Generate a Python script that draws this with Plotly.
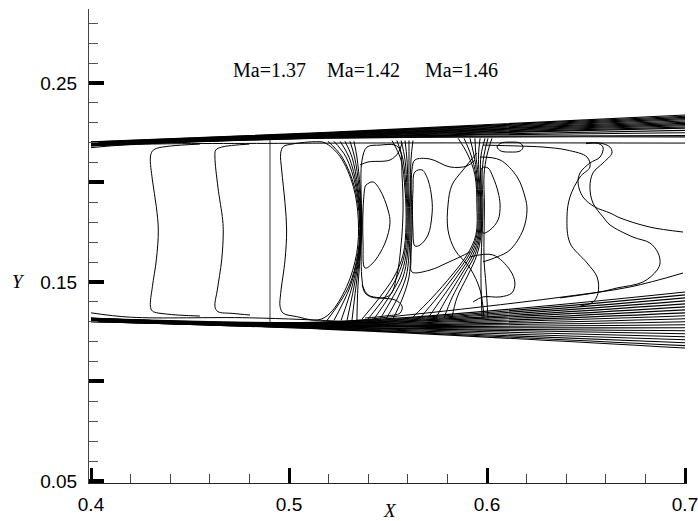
import plotly.graph_objects as go

# ---------------- data (data units) ----------------
x_ticks = [0.4, 0.5, 0.6, 0.7]
x_labels = ["0.4", "0.5", "0.6", "0.7"]
y_ticks = [0.05, 0.10, 0.15, 0.20, 0.25]
y_labels = ["0.05", "", "0.15", "", "0.25"]

mach_labels = ["Ma=1.37", "Ma=1.42", "Ma=1.46"]
mach_label_x = [0.4899, 0.5374, 0.5869]
mach_label_y = 0.2565

# nozzle wall contour bundles: x stations and y at each station
wall_x = [0.40, 0.52, 0.70]
upper_yL = [0.2204, 0.2203, 0.2201, 0.2200, 0.2199, 0.2197, 0.2196, 0.2195,
            0.2193, 0.2192, 0.2191, 0.2189, 0.2188, 0.2187, 0.2185, 0.2184]
upper_yM = [0.2252, 0.2250, 0.2248, 0.2246, 0.2244, 0.2242, 0.2240, 0.2238,
            0.2236, 0.2234, 0.2232, 0.2230, 0.2228, 0.2226, 0.2224, 0.2222]
upper_yR = [0.2339, 0.2333, 0.2327, 0.2321, 0.2315, 0.2309, 0.2303, 0.2297,
            0.2291, 0.2285, 0.2279, 0.2273, 0.2262, 0.2250, 0.2236, 0.2229]
lower_yL = [0.1319, 0.1318, 0.1317, 0.1316, 0.1315, 0.1314, 0.1313, 0.1312, 0.1311, 0.1310,
            0.1309, 0.1308, 0.1307, 0.1306, 0.1305, 0.1304, 0.1303, 0.1302, 0.1301, 0.1300]
lower_yM = [0.1300, 0.1298, 0.1296, 0.1294, 0.1292, 0.1290, 0.1288, 0.1286, 0.1284, 0.1282,
            0.1280, 0.1278, 0.1276, 0.1274, 0.1272, 0.1270, 0.1268, 0.1266, 0.1264, 0.1262]
lower_yR = [0.1450, 0.1435, 0.1420, 0.1405, 0.1390, 0.1375, 0.1360, 0.1345, 0.1330, 0.1315,
            0.1300, 0.1285, 0.1270, 0.1255, 0.1240, 0.1225, 0.1210, 0.1195, 0.1180, 0.1168]

h_up_x = [0.400, 0.420, 0.500, 0.600, 0.700]
h_up_y = [0.2175, 0.2190, 0.2197, 0.2199, 0.2198]
h_low_x = [0.400, 0.420, 0.480, 0.530, 0.560]
h_low_y = [0.1345, 0.1323, 0.1320, 0.1300, 0.1275]
l_top_x = [0.400, 0.5207, 0.5596, 0.5965, 0.6384, 0.6722, 0.6990]
l_top_y = [0.1318, 0.1299, 0.1334, 0.1374, 0.1425, 0.1475, 0.1545]

# Mach contours
c1_x = [0.455, 0.440, 0.433, 0.431, 0.430, 0.431, 0.433, 0.434, 0.433, 0.431, 0.430, 0.431, 0.438, 0.455]
c1_y = [0.2193, 0.2183, 0.2171, 0.2158, 0.2128, 0.2013, 0.1878, 0.1761, 0.1611, 0.1476, 0.1379, 0.1354, 0.1339, 0.1329]
c2_x = [0.480, 0.466, 0.463, 0.4626, 0.4641, 0.4665, 0.4668, 0.4660, 0.4638, 0.4626, 0.4641, 0.4717, 0.4803]
c2_y = [0.2193, 0.2178, 0.2163, 0.2128, 0.1977, 0.1812, 0.1746, 0.1611, 0.1460, 0.1376, 0.1351, 0.1342, 0.1334]
c3_x = [0.4904, 0.4904]
c3_y = [0.2218, 0.1297]
c4_x = [0.4971, 0.5015, 0.5140, 0.5182, 0.5258, 0.5325, 0.5350, 0.5342, 0.5291, 0.5207, 0.5146,
        0.5039, 0.4971, 0.4955, 0.4958, 0.4980, 0.4988, 0.4980, 0.4963, 0.4958, 0.4971]
c4_y = [0.2180, 0.2193, 0.2205, 0.2199, 0.2130, 0.1979, 0.1812, 0.1644, 0.1476, 0.1343, 0.1309,
        0.1326, 0.1343, 0.1376, 0.1443, 0.1611, 0.1761, 0.1895, 0.2063, 0.2147, 0.2180]

s1_y = [0.2207, 0.2128, 0.1977, 0.1812, 0.1646, 0.1475, 0.1307]
s1a_x = [0.5197, 0.5268, 0.5331, 0.5356, 0.5348, 0.5301, 0.5192]
s1b_x = [0.5227, 0.5288, 0.5338, 0.5359, 0.5351, 0.5308, 0.5227]
s1c_x = [0.5258, 0.5303, 0.5343, 0.5361, 0.5354, 0.5318, 0.5263]
s1d_x = [0.5283, 0.5318, 0.5348, 0.5364, 0.5356, 0.5328, 0.5293]
s1e_x = [0.5308, 0.5331, 0.5354, 0.5366, 0.5359, 0.5338, 0.5318]
s1f_x = [0.5328, 0.5343, 0.5359, 0.5369, 0.5361, 0.5348, 0.5343]

r1_x = [0.5394, 0.5460, 0.5535, 0.5561, 0.5571, 0.5576, 0.5566, 0.5545, 0.5510, 0.5434, 0.5384,
        0.5369, 0.5364, 0.5364, 0.5369, 0.5394]
r1_y = [0.2178, 0.2188, 0.2188, 0.2163, 0.2038, 0.1862, 0.1686, 0.1535, 0.1435, 0.1420, 0.1445,
        0.1510, 0.1711, 0.1912, 0.2113, 0.2178]
i1_x = [0.5389, 0.5424, 0.5460, 0.5500, 0.5510, 0.5485, 0.5424, 0.5384, 0.5374, 0.5374, 0.5384, 0.5389]
i1_y = [0.1987, 0.2003, 0.1962, 0.1862, 0.1797, 0.1696, 0.1596, 0.1570, 0.1696, 0.1862, 0.1977, 0.1987]
k1_x = [0.5359, 0.5399, 0.5510, 0.5551, 0.5571]
k1_y = [0.2088, 0.2103, 0.2113, 0.2148, 0.2198]
k2_x = [0.5369, 0.5399, 0.5460, 0.5535, 0.5571, 0.5561, 0.5485, 0.5384]
k2_y = [0.1485, 0.1435, 0.1420, 0.1410, 0.1379, 0.1344, 0.1329, 0.1319]

s2_y = [0.2211, 0.2113, 0.1962, 0.1787, 0.1636, 0.1525, 0.1425, 0.1314]
s2a_x = [0.5520, 0.5566, 0.5586, 0.5591, 0.5576, 0.5530, 0.5460, 0.5369]
s2b_x = [0.5545, 0.5576, 0.5591, 0.5596, 0.5583, 0.5545, 0.5485, 0.5399]
s2c_x = [0.5566, 0.5586, 0.5596, 0.5601, 0.5591, 0.5561, 0.5505, 0.5429]
s2d_x = [0.5586, 0.5596, 0.5601, 0.5606, 0.5598, 0.5576, 0.5525, 0.5460]
s2e_x = [0.5606, 0.5606, 0.5606, 0.5611, 0.5606, 0.5591, 0.5551, 0.5490]
s2f_x = [0.5626, 0.5616, 0.5614, 0.5616, 0.5614, 0.5606, 0.5576, 0.5525]

i2_x = [0.5636, 0.5672, 0.5702, 0.5722, 0.5722, 0.5702, 0.5662, 0.5636, 0.5626, 0.5626, 0.5636]
i2_y = [0.2053, 0.2063, 0.2013, 0.1912, 0.1837, 0.1736, 0.1686, 0.1681, 0.1761, 0.1962, 0.2053]
o2_x = [0.5939, 0.5899, 0.5813, 0.5712, 0.5636, 0.5621, 0.5621, 0.5616, 0.5621, 0.5712, 0.5798, 0.5864, 0.5914]
o2_y = [0.2113, 0.2083, 0.2078, 0.2118, 0.2113, 0.2063, 0.1761, 0.1611, 0.1550, 0.1560, 0.1596, 0.1626, 0.1651]

s3_y = [0.2222, 0.2138, 0.2038, 0.1887, 0.1736, 0.1636, 0.1535, 0.1420, 0.1319]
s3a_x = [0.5854, 0.5904, 0.5939, 0.5949, 0.5944, 0.5899, 0.5823, 0.5722, 0.5621]
s3b_x = [0.5884, 0.5919, 0.5944, 0.5955, 0.5949, 0.5909, 0.5838, 0.5747, 0.5662]
s3c_x = [0.5914, 0.5934, 0.5949, 0.5960, 0.5955, 0.5919, 0.5854, 0.5773, 0.5702]
s3d_x = [0.5939, 0.5944, 0.5955, 0.5965, 0.5960, 0.5929, 0.5869, 0.5798, 0.5742]
s3e_x = [0.5965, 0.5957, 0.5960, 0.5970, 0.5965, 0.5939, 0.5884, 0.5823, 0.5783]
s3f_x = [0.5990, 0.5970, 0.5967, 0.5975, 0.5970, 0.5949, 0.5904, 0.5848, 0.5823]
s3gh_y = [0.2222, 0.2138, 0.2038, 0.1887, 0.1736, 0.1611, 0.1485, 0.1319]
s3g_x = [0.6005, 0.5985, 0.5975, 0.5980, 0.5975, 0.5970, 0.5970, 0.5975]
s3h_x = [0.6025, 0.6000, 0.5985, 0.5987, 0.5985, 0.5985, 0.5995, 0.6005]

i3_x = [0.5975, 0.6005, 0.6030, 0.6056, 0.6066, 0.6056, 0.6015, 0.5980, 0.5970, 0.5970, 0.5975]
i3_y = [0.2073, 0.2073, 0.2028, 0.1952, 0.1887, 0.1812, 0.1761, 0.1746, 0.1837, 0.1987, 0.2073]
o3_x = [0.5965, 0.6066, 0.6152, 0.6192, 0.6202, 0.6182, 0.6116, 0.6051, 0.5980]
o3_y = [0.2128, 0.2113, 0.2028, 0.1927, 0.1862, 0.1761, 0.1661, 0.1626, 0.1601]
l3_x = [0.5914, 0.6030, 0.6116, 0.6141, 0.6126, 0.6066, 0.5980, 0.5930]
l3_y = [0.1626, 0.1636, 0.1560, 0.1495, 0.1445, 0.1425, 0.1425, 0.1400]
k3_x = [0.5949, 0.5879, 0.5823, 0.5803, 0.5803, 0.5838, 0.5914, 0.5965, 0.5985]
k3_y = [0.2148, 0.2063, 0.1987, 0.1887, 0.1761, 0.1661, 0.1570, 0.1460, 0.1319]
e1_x = [0.6051, 0.6071, 0.6116, 0.6167, 0.6182, 0.6167, 0.6116, 0.6071, 0.6051]
e1_y = [0.2178, 0.2198, 0.2203, 0.2198, 0.2178, 0.2158, 0.2153, 0.2158, 0.2178]
k4_x = [0.5980, 0.6167, 0.6283, 0.6404, 0.6505, 0.6520, 0.6470, 0.6419, 0.6404, 0.6419, 0.6505,
        0.6556, 0.6561, 0.6535, 0.6470]
k4_y = [0.2188, 0.2183, 0.2178, 0.2163, 0.2128, 0.2078, 0.2028, 0.1927, 0.1827, 0.1696, 0.1596,
        0.1525, 0.1445, 0.1399, 0.1379]
k5_x = [0.6500, 0.6556, 0.6586, 0.6571, 0.6520, 0.6470, 0.6460, 0.6485, 0.6545, 0.6621, 0.6672, 0.6823, 0.6990]
k5_y = [0.2198, 0.2198, 0.2178, 0.2128, 0.2098, 0.2048, 0.1997, 0.1927, 0.1877, 0.1847, 0.1822, 0.1776, 0.1751]
k6_x = [0.6500, 0.6571, 0.6621, 0.6631, 0.6586, 0.6535, 0.6520, 0.6535, 0.6586, 0.6621, 0.6737,
        0.6823, 0.6864, 0.6874, 0.6859, 0.6788, 0.6657, 0.6571, 0.6369]
k6_y = [0.2195, 0.2198, 0.2178, 0.2148, 0.2098, 0.2048, 0.1977, 0.1897, 0.1827, 0.1787, 0.1726,
        0.1696, 0.1646, 0.1596, 0.1560, 0.1500, 0.1470, 0.1450, 0.1420]

# ---------------- figure ----------------
fig = go.Figure()


def add(xs, ys, width=1.0, smooth=True):
    fig.add_trace(go.Scatter(
        x=xs, y=ys, mode="lines",
        line=dict(color="black", width=width,
                  shape="spline" if smooth else "linear",
                  smoothing=1.0),
        showlegend=False, hoverinfo="skip"))


for a, b, c in zip(upper_yL, upper_yM, upper_yR):
    add(wall_x, [a, b, c], 1.1)
for a, b, c in zip(lower_yL, lower_yM, lower_yR):
    add(wall_x, [a, b, c], 1.1)

add(h_up_x, h_up_y)
add(h_low_x, h_low_y)
add(l_top_x, l_top_y)

add(c1_x, c1_y)
add(c2_x, c2_y)
add(c3_x, c3_y, 0.8, smooth=False)
add(c4_x, c4_y)
for sx in (s1a_x, s1b_x, s1c_x, s1d_x, s1e_x, s1f_x):
    add(sx, s1_y)
add(r1_x, r1_y)
add(i1_x, i1_y)
add(k1_x, k1_y)
add(k2_x, k2_y)
for sx in (s2a_x, s2b_x, s2c_x, s2d_x, s2e_x, s2f_x):
    add(sx, s2_y)
add(i2_x, i2_y)
add(o2_x, o2_y)
for sx in (s3a_x, s3b_x, s3c_x, s3d_x, s3e_x, s3f_x):
    add(sx, s3_y)
add(s3g_x, s3gh_y)
add(s3h_x, s3gh_y)
add(i3_x, i3_y)
add(o3_x, o3_y)
add(l3_x, l3_y)
add(k3_x, k3_y)
add(e1_x, e1_y)
add(k4_x, k4_y)
add(k5_x, k5_y)
add(k6_x, k6_y)

tick_font = dict(family="Liberation Sans, Arial, sans-serif", size=19, color="black")

# axis ranges padded by ~2 px so the end ticks (0.4, 0.7, 0.05) are drawn
fig.update_layout(
    width=698, height=521,
    margin=dict(l=89, r=11, t=9, b=38, autoexpand=False),
    paper_bgcolor="white", plot_bgcolor="white",
    xaxis=dict(range=[0.39899, 0.70101], showline=True, linecolor="#222", linewidth=1,
               showgrid=False, zeroline=False, automargin=False,
               tickmode="array", tickvals=x_ticks, ticktext=x_labels,
               ticks="inside", ticklen=15, tickwidth=3, tickcolor="black",
               tickfont=tick_font, ticklabelstandoff=4, ticklabeloverflow="allow",
               minor=dict(tick0=0.4, dtick=0.02, ticks="inside", ticklen=9,
                          tickwidth=1, tickcolor="#444")),
    yaxis=dict(range=[0.04899, 0.28718], showline=True, linecolor="#444", linewidth=1,
               showgrid=False, zeroline=False, automargin=False,
               tickmode="array", tickvals=y_ticks, ticktext=y_labels,
               ticks="inside", ticklen=15, tickwidth=3.5, tickcolor="black",
               tickfont=tick_font, ticklabelstandoff=7, ticklabeloverflow="allow",
               minor=dict(tick0=0.05, dtick=0.01, ticks="inside", ticklen=9,
                          tickwidth=1, tickcolor="#555")),
)

for txt, mx in zip(mach_labels, mach_label_x):
    fig.add_annotation(x=mx, y=mach_label_y, xref="x", yref="y", text=txt,
                       showarrow=False,
                       font=dict(family="Liberation Serif, Times New Roman, serif",
                                 size=20, color="black"))

fig.add_annotation(x=0.551, y=-0.057, xref="x", yref="paper", text="<i>X</i>",
                   showarrow=False, yanchor="middle",
                   font=dict(family="Liberation Serif, serif", size=19, color="black"))
fig.add_annotation(x=-0.118, y=0.15, xref="paper", yref="y", text="<i>Y</i>",
                   showarrow=False, xanchor="center",
                   font=dict(family="Liberation Serif, serif", size=19, color="black"))

fig.write_html("out.html")
